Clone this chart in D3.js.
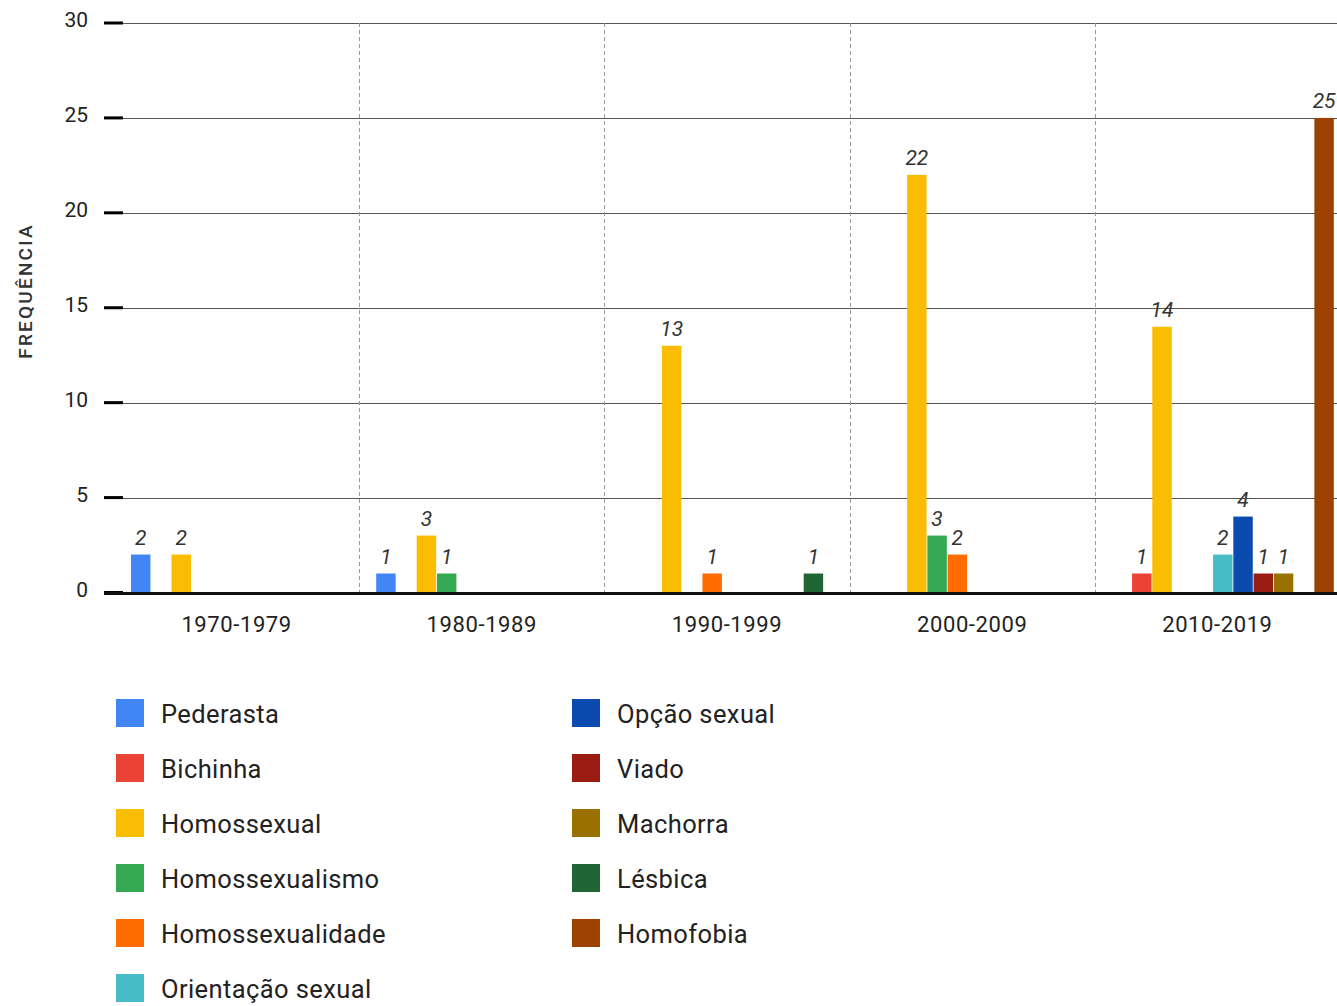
<!DOCTYPE html>
<html>
<head>
<meta charset="utf-8">
<script src="https://cdn.jsdelivr.net/npm/d3@7"></script>
<style>
  body { margin: 0; background: #fff; }
  svg { display: block; font-family: Roboto, "Noto Sans", sans-serif; }
  .grid line { stroke: #555; stroke-width: 1px; }
  .sep { stroke: #999; stroke-width: 1px; stroke-dasharray: 4,3; }
  .tick-label { fill: #222; font-size: 21px; }
  .x-label { fill: #222; font-size: 22px; letter-spacing: 0.6px; }
  .val { fill: #333; font-size: 21px; font-style: italic; }
  .leg text { fill: #222; font-size: 25.5px; letter-spacing: 0.4px; }
</style>
</head>
<body>
<div id="chart"></div>
<script>
// decades on the x axis
var decades = ['1970-1979', '1980-1989', '1990-1999', '2000-2009', '2010-2019'];

// terms (series), in legend order
var terms = ['Pederasta', 'Bichinha', 'Homossexual', 'Homossexualismo', 'Homossexualidade',
  'Orientação sexual', 'Opção sexual', 'Viado', 'Machorra', 'Lésbica', 'Homofobia'];

var termColors = ['#4285f4', '#ea4335', '#fbbc04', '#34a853', '#ff6d01',
  '#46bdc6', '#0b4bb0', '#9b1c13', '#987100', '#1f6634', '#9c4100'];

// frequency per term, one value per decade
var pederasta        = [2, 1, 0, 0, 0];
var bichinha         = [0, 0, 0, 0, 1];
var homossexual      = [2, 3, 13, 22, 14];
var homossexualismo  = [0, 1, 0, 3, 0];
var homossexualidade = [0, 0, 1, 2, 0];
var orientacao       = [0, 0, 0, 0, 2];
var opcao            = [0, 0, 0, 0, 4];
var viado            = [0, 0, 0, 0, 1];
var machorra         = [0, 0, 0, 0, 1];
var lesbica          = [0, 0, 1, 0, 0];
var homofobia        = [0, 0, 0, 0, 25];

var seriesValues = [pederasta, bichinha, homossexual, homossexualismo, homossexualidade,
  orientacao, opcao, viado, machorra, lesbica, homofobia];

var yTicks = [0, 5, 10, 15, 20, 25, 30];

var W = 1337, H = 1006;
var margin = {top: 23, right: 0, bottom: 413, left: 114};

var svg = d3.select('#chart').append('svg')
  .attr('width', W)
  .attr('height', H);

var x0 = d3.scaleBand()
  .domain(decades)
  .range([margin.left, W - margin.right + 3]);

// position of each term inside a decade
var x1 = d3.scaleBand()
  .domain(terms)
  .range([17, 239])
  .paddingInner(0.04);

var y = d3.scaleLinear()
  .domain([0, 30])
  .range([H - margin.bottom - 0.5, margin.top]);

var color = d3.scaleOrdinal().domain(terms).range(termColors);

// horizontal gridlines
svg.append('g').attr('class', 'grid')
  .selectAll('line')
  .data(yTicks.filter(function(d) { return d > 0; }))
  .join('line')
    .attr('x1', 123).attr('x2', W)
    .attr('y1', function(d) { return Math.round(y(d)) + 0.5; })
    .attr('y2', function(d) { return Math.round(y(d)) + 0.5; });

// dashed separators between decades
svg.append('g')
  .selectAll('line')
  .data(decades.slice(1))
  .join('line')
    .attr('class', 'sep')
    .attr('x1', function(d) { return Math.round(x0(d)) + 0.5; })
    .attr('x2', function(d) { return Math.round(x0(d)) + 0.5; })
    .attr('y1', y(30))
    .attr('y2', y(0));

// y axis: thick short ticks + labels
var yAxis = svg.append('g');
yAxis.selectAll('line')
  .data(yTicks)
  .join('line')
    .attr('x1', 104).attr('x2', 123)
    .attr('y1', function(d) { return y(d); })
    .attr('y2', function(d) { return y(d); })
    .attr('stroke', '#000')
    .attr('stroke-width', 3);
yAxis.selectAll('text')
  .data(yTicks)
  .join('text')
    .attr('class', 'tick-label')
    .attr('x', 88)
    .attr('y', function(d) { return y(d) - 3; })
    .attr('dy', '0.35em')
    .attr('text-anchor', 'end')
    .text(function(d) { return d; });

svg.append('text')
  .attr('transform', 'translate(32,' + 291 + ') rotate(-90)')
  .attr('text-anchor', 'middle')
  .attr('fill', '#333')
  .style('font-size', '19px')
  .style('font-weight', 500)
  .style('letter-spacing', '2.2px')
  .text('FREQUÊNCIA');

// bars
var rows = [];
decades.forEach(function(dec, i) {
  terms.forEach(function(t, j) {
    var v = seriesValues[j][i];
    if (v > 0) rows.push({decade: dec, term: t, value: v});
  });
});

var bars = svg.append('g');
bars.selectAll('rect')
  .data(rows)
  .join('rect')
    .attr('x', function(d) { return x0(d.decade) + x1(d.term); })
    .attr('y', function(d) { return y(d.value); })
    .attr('width', x1.bandwidth())
    .attr('height', function(d) { return y(0) - y(d.value); })
    .attr('fill', function(d) { return color(d.term); });

bars.selectAll('text')
  .data(rows)
  .join('text')
    .attr('class', 'val')
    .attr('x', function(d) { return x0(d.decade) + x1(d.term) + x1.bandwidth() / 2; })
    .attr('y', function(d) { return y(d.value) - 10; })
    .attr('text-anchor', 'middle')
    .text(function(d) { return d.value; });

// baseline
svg.append('line')
  .attr('x1', 104).attr('x2', W)
  .attr('y1', y(0) + 1).attr('y2', y(0) + 1)
  .attr('stroke', '#111')
  .attr('stroke-width', 3);

// x labels
svg.append('g')
  .selectAll('text')
  .data(decades)
  .join('text')
    .attr('class', 'x-label')
    .attr('x', function(d) { return x0(d) + x0.bandwidth() / 2; })
    .attr('y', 632)
    .attr('text-anchor', 'middle')
    .text(function(d) { return d; });

// legend, two columns
var perCol = 6;
var leg = svg.append('g').attr('class', 'leg')
  .selectAll('g')
  .data(terms)
  .join('g')
    .attr('transform', function(d, i) {
      var col = Math.floor(i / perCol), row = i % perCol;
      return 'translate(' + (116 + col * 456) + ',' + (699 + row * 55) + ')';
    });
leg.append('rect')
  .attr('width', 28).attr('height', 28)
  .attr('fill', function(d) { return color(d); });
leg.append('text')
  .attr('x', 45)
  .attr('y', 15)
  .attr('dy', '0.35em')
  .text(function(d) { return d; });
</script>
</body>
</html>
